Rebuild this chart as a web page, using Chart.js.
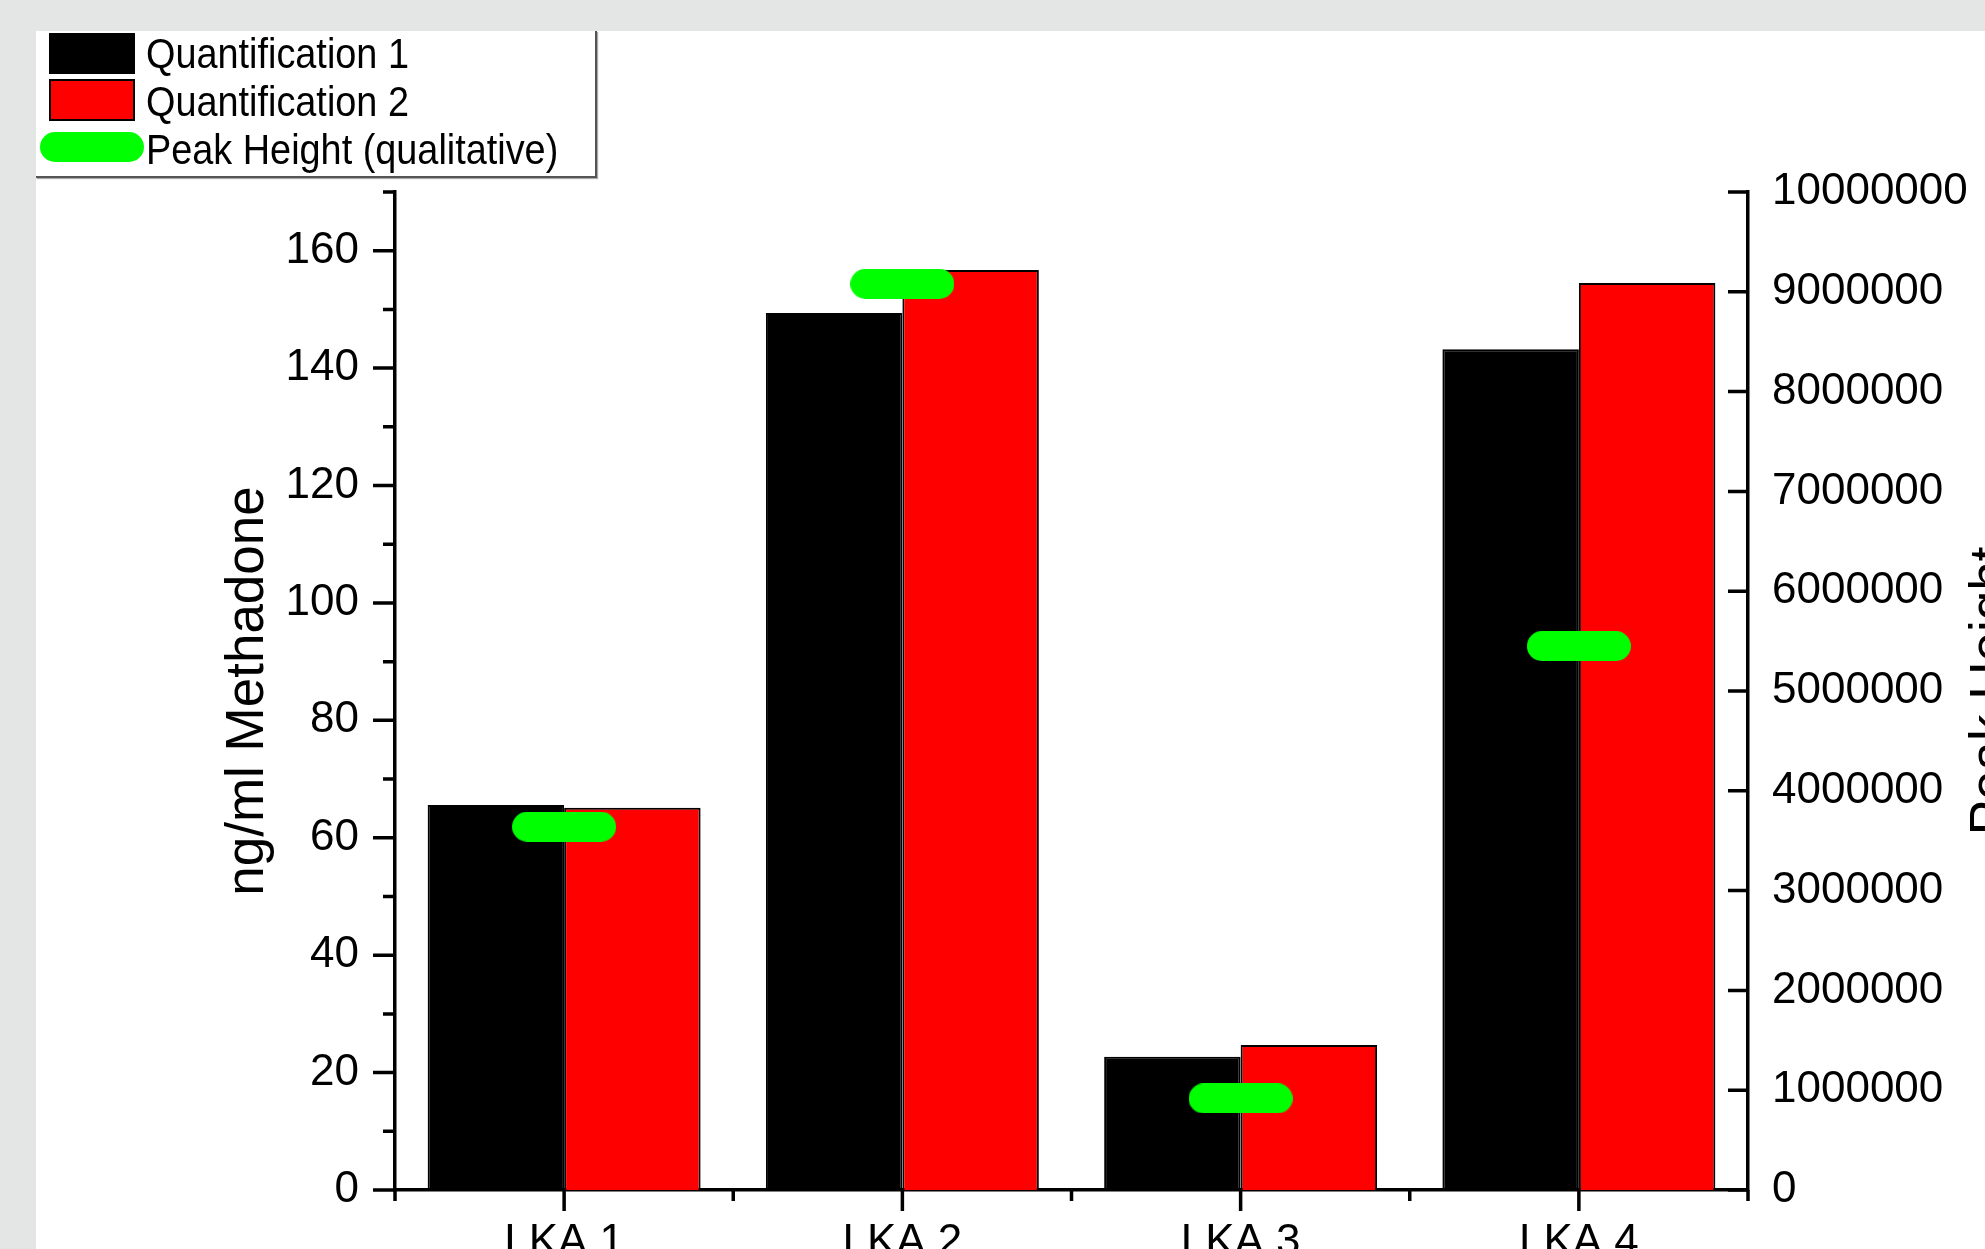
<!DOCTYPE html>
<html>
<head>
<meta charset="utf-8">
<title>Methadone quantification</title>
<script src="https://cdn.jsdelivr.net/npm/chart.js@4.4.0/dist/chart.umd.min.js"></script>
<style>
  html, body {
    margin: 0;
    padding: 0;
    width: 1985px;
    height: 1249px;
    overflow: hidden;
    background: #e4e6e5;
    font-family: "Liberation Sans", Arial, sans-serif;
  }
  #panel {
    position: absolute;
    left: 36px;
    top: 31px;
    width: 2100px;
    height: 1320px;
    background: #fff;
  }
  #chartBox {
    position: absolute;
    left: 0;
    top: 0;
    width: 2100px;
    height: 1320px;
  }
  #legend {
    position: absolute;
    left: 0;
    top: 0;
    width: 559px;
    height: 145px;
    background: #fff;
    border-right: 2px solid #555;
    border-bottom: 2px solid #555;
    box-shadow: 1px 1px 1px #aaa;
  }
  .swatch {
    position: absolute;
    box-sizing: border-box;
    border: 2px solid #000;
  }
  .legText {
    position: absolute;
    left: 110px;
    font-size: 43px;
    line-height: 48px;
    color: #000;
    white-space: nowrap;
    transform: scaleX(0.88);
    transform-origin: 0 50%;
  }
</style>
</head>
<body>
<div id="panel">
  <div id="chartBox"><canvas id="methadoneChart"></canvas></div>
  <div id="legend"></div>
</div>
<script>
// data
var categories = ["LKA 1", "LKA 2", "LKA 3", "LKA 4"];
var quant1 = [65.6, 149.4, 22.7, 143.2];
var quant2 = [65.1, 156.7, 24.7, 154.5];
var peakHeight = [3640000, 9080000, 917000, 5450000];
var seriesLabels = ["Quantification 1", "Quantification 2", "Peak Height (qualitative)"];
var leftTitle = "ng/ml Methadone";
var rightTitle = "Peak Height";
var leftMax = 170, leftStep = 10, leftLabelStep = 20;
var rightMax = 10000000, rightStep = 1000000;

var FONT = '"Liberation Sans", Arial, sans-serif';
var GREEN = "rgb(0, 255, 0)";

// pill shaped marker for the peak height series
function makePill(w, h, color) {
  var c = document.createElement("canvas");
  c.width = w;
  c.height = h;
  var g = c.getContext("2d");
  var r = h / 2;
  g.fillStyle = color;
  g.beginPath();
  g.moveTo(r, 0);
  g.lineTo(w - r, 0);
  g.arc(w - r, r, r, -Math.PI / 2, Math.PI / 2);
  g.lineTo(r, h);
  g.arc(r, r, r, Math.PI / 2, Math.PI * 1.5);
  g.closePath();
  g.fill();
  return c;
}

// legend, built from the series labels
function buildLegend() {
  var legend = document.getElementById("legend");
  var rows = [
    { top: -2, mark: { left: 13, top: 2, width: 86, height: 41, background: "#000", radius: 0 } },
    { top: 46, mark: { left: 13, top: 48, width: 86, height: 42, background: "#ff0000", radius: 0 } },
    { top: 94, mark: { left: 4, top: 101, width: 104, height: 30, background: GREEN, radius: 15 } }
  ];
  rows.forEach(function (row, i) {
    var m = document.createElement("div");
    m.className = "swatch";
    m.style.left = row.mark.left + "px";
    m.style.top = row.mark.top + "px";
    m.style.width = row.mark.width + "px";
    m.style.height = row.mark.height + "px";
    m.style.background = row.mark.background;
    if (row.mark.radius) {
      m.style.borderRadius = row.mark.radius + "px";
      m.style.border = "none";
    }
    legend.appendChild(m);

    var t = document.createElement("div");
    t.className = "legText";
    t.style.top = row.top + "px";
    t.textContent = seriesLabels[i];
    legend.appendChild(t);
  });
}

// tick marks: outward on the left and bottom, inward on the right
var tickMarks = {
  id: "tickMarks",
  afterDraw: function (chart) {
    var ctx = chart.ctx;
    var y = chart.scales.y, y1 = chart.scales.y1, x = chart.scales.x;
    var area = chart.chartArea;
    ctx.save();
    ctx.strokeStyle = "#000";
    ctx.lineWidth = 3.5;
    ctx.beginPath();
    y.ticks.forEach(function (t) {
      var py = y.getPixelForValue(t.value);
      var len = t.value % leftLabelStep === 0 ? 22 : 12;
      ctx.moveTo(area.left, py);
      ctx.lineTo(area.left - len, py);
    });
    y1.ticks.forEach(function (t) {
      var py = y1.getPixelForValue(t.value);
      ctx.moveTo(area.right, py);
      ctx.lineTo(area.right - 20, py);
    });
    for (var i = 0; i < categories.length; i++) {
      var px = x.getPixelForValue(i);
      ctx.moveTo(px, area.bottom);
      ctx.lineTo(px, area.bottom + 21);
    }
    for (var j = 0; j <= categories.length; j++) {
      var bx = x.getPixelForValue(j - 0.5);
      ctx.moveTo(bx, area.bottom);
      ctx.lineTo(bx, area.bottom + 11);
    }
    ctx.stroke();
    ctx.restore();
  }
};

// axis titles, both reading bottom to top
var axisTitles = {
  id: "axisTitles",
  afterDraw: function (chart) {
    var ctx = chart.ctx;
    var area = chart.chartArea;
    var midY = (area.top + area.bottom) / 2;
    ctx.save();
    ctx.fillStyle = "#000";
    ctx.font = "53px " + FONT;
    ctx.textAlign = "center";

    ctx.save();
    ctx.translate(area.left - 147, midY);
    ctx.rotate(-Math.PI / 2);
    ctx.textBaseline = "middle";
    ctx.fillText(leftTitle, 0, 0);
    ctx.restore();

    ctx.save();
    ctx.translate(area.right + 259, midY);
    ctx.rotate(-Math.PI / 2);
    ctx.textBaseline = "alphabetic";
    ctx.fillText(rightTitle, 0, 0);
    ctx.restore();

    ctx.restore();
  }
};

document.addEventListener("DOMContentLoaded", function () {
  buildLegend();

  var tickFont = { family: FONT, size: 44 };
  var axisBorder = { display: true, color: "#000", width: 3.5 };

  var ctx = document.getElementById("methadoneChart").getContext("2d");
  var chart = new Chart(ctx, {
    type: "bar",
    data: {
      labels: categories,
      datasets: [
        {
          type: "line",
          label: seriesLabels[2],
          data: peakHeight,
          yAxisID: "y1",
          showLine: false,
          pointStyle: makePill(104, 30, GREEN),
          pointRadius: 15,
          order: 0
        },
        {
          label: seriesLabels[0],
          data: quant1,
          yAxisID: "y",
          backgroundColor: "#000000",
          borderColor: "#000000",
          borderWidth: 2,
          categoryPercentage: 0.807,
          barPercentage: 1.0,
          order: 1
        },
        {
          label: seriesLabels[1],
          data: quant2,
          yAxisID: "y",
          backgroundColor: "#ff0000",
          borderColor: "#000000",
          borderWidth: 2,
          categoryPercentage: 0.807,
          barPercentage: 1.0,
          order: 1
        }
      ]
    },
    options: {
      responsive: true,
      maintainAspectRatio: false,
      animation: false,
      layout: { padding: { top: 161, left: 0, right: 0, bottom: 0 } },
      plugins: {
        legend: { display: false },
        tooltip: { enabled: false }
      },
      scales: {
        x: {
          grid: { display: false },
          border: axisBorder,
          ticks: { color: "#000", font: tickFont, padding: 18, maxRotation: 0 },
          afterFit: function (s) { s.height = 161; }
        },
        y: {
          position: "left",
          min: 0,
          max: leftMax,
          grid: { display: false },
          border: axisBorder,
          ticks: {
            stepSize: leftStep,
            autoSkip: false,
            color: "#000",
            font: tickFont,
            padding: 28,
            callback: function (v) { return v % leftLabelStep === 0 ? v : ""; }
          },
          afterFit: function (s) { s.width = 359; }
        },
        y1: {
          position: "right",
          min: 0,
          max: rightMax,
          grid: { display: false },
          border: axisBorder,
          ticks: {
            stepSize: rightStep,
            autoSkip: false,
            color: "#000",
            font: tickFont,
            padding: 16,
            callback: function (v) { return String(v); }
          },
          afterFit: function (s) { s.width = 388; }
        }
      }
    },
    plugins: [tickMarks, axisTitles]
  });
});
</script>
</body>
</html>
